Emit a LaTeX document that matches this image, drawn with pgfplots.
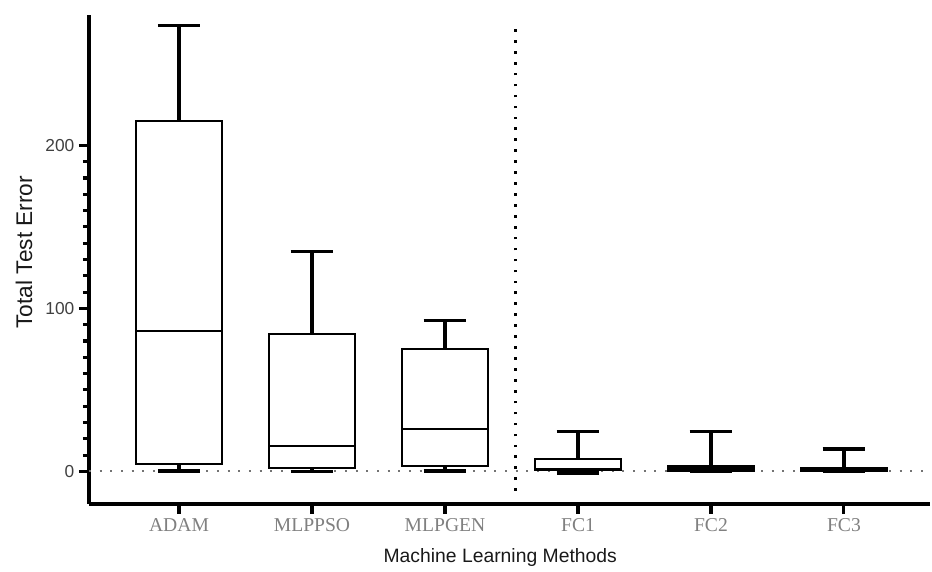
\documentclass[border=0pt]{standalone}
\usepackage{pgfplots}
\pgfplotsset{compat=1.18}
\usepackage{fontspec}
\setmainfont{Liberation Sans}
\newfontfamily\timesfont{Liberation Serif}
\begin{document}
\begin{tikzpicture}
\begin{axis}[
  scale only axis,
  width=630.75pt, height=366.75pt,
  xmin=-0.677, xmax=5.647,
  ymin=-20, ymax=280,
  clip=false,
  axis x line*=bottom, axis y line*=left,
  axis line style={line width=2.3pt, -},
  xtick={0,1,2,3,4,5},
  xticklabels={ADAM,MLPPSO,MLPGEN,FC1,FC2,FC3},
  xticklabel style={font=\timesfont\fontsize{14.7}{16}\selectfont, text=black!50},
  ytick={0,100,200},
  minor y tick num=9,
  /pgf/number format/assume math mode=true,
  yticklabel style={font=\fontsize{13}{15}\selectfont, text=black!75},
  tick align=outside,
  major tick length=7.5pt,
  minor tick length=4.5pt,
  every tick/.style={black, line width=2.3pt},
  every minor tick/.style={black, line width=2.3pt},
  xlabel={Machine Learning Methods},
  ylabel={Total Test Error},
  xlabel style={font=\fontsize{14.5}{17}\selectfont, text=black!90, at={(axis description cs:0.489,-0.110)}, anchor=center},
  ylabel style={font=\fontsize{17}{20}\selectfont, text=black!90, at={(axis description cs:-0.0773,0.515)}, anchor=center},
  bx/.style={black, line width=1.5pt, mark=none},
  wk/.style={black, line width=2.6pt, mark=none},
]
\addplot[black!55, line width=1.4pt, dash pattern=on 1.4pt off 6.6pt] coordinates {(-0.677,0) (5.647,0)};
\addplot[black, line width=2pt, dash pattern=on 2pt off 6.2pt] coordinates {(2.53,-12) (2.53,276)};
% ADAM: lw 0.2, q1 4.3, med 86, q3 215, uw 273.5
\addplot[wk] coordinates {(0,215) (0,273.5)};
\addplot[wk] coordinates {(-0.16,273.5) (0.16,273.5)};
\addplot[wk] coordinates {(0,4.3) (0,0.2)};
\addplot[wk] coordinates {(-0.16,0.2) (0.16,0.2)};
\addplot[bx] coordinates {(-0.325,4.3) (0.325,4.3) (0.325,215) (-0.325,215)} -- cycle;
\addplot[bx] coordinates {(-0.325,86) (0.325,86)};
% MLPPSO: lw 0, q1 2, med 15.5, q3 84, uw 135
\addplot[wk] coordinates {(1,84) (1,135)};
\addplot[wk] coordinates {(0.84,135) (1.16,135)};
\addplot[wk] coordinates {(1,2) (1,0)};
\addplot[wk] coordinates {(0.84,0) (1.16,0)};
\addplot[bx] coordinates {(0.675,2) (1.325,2) (1.325,84) (0.675,84)} -- cycle;
\addplot[bx] coordinates {(0.675,15.5) (1.325,15.5)};
% MLPGEN: lw 0.2, q1 3, med 26, q3 75, uw 92.5
\addplot[wk] coordinates {(2,75) (2,92.5)};
\addplot[wk] coordinates {(1.84,92.5) (2.16,92.5)};
\addplot[wk] coordinates {(2,3) (2,0.2)};
\addplot[wk] coordinates {(1.84,0.2) (2.16,0.2)};
\addplot[bx] coordinates {(1.675,3) (2.325,3) (2.325,75) (1.675,75)} -- cycle;
\addplot[bx] coordinates {(1.675,26) (2.325,26)};
% FC1: lw -1, q1 0.6, med 1.5, q3 7.4, uw 24.6
\addplot[wk] coordinates {(3,7.4) (3,24.6)};
\addplot[wk] coordinates {(2.84,24.6) (3.16,24.6)};
\addplot[wk] coordinates {(3,0.6) (3,-1)};
\addplot[wk, line width=3.2pt] coordinates {(2.84,-0.8) (3.16,-0.8)};
\addplot[bx] coordinates {(2.675,0.6) (3.325,0.6) (3.325,7.4) (2.675,7.4)} -- cycle;
\addplot[bx] coordinates {(2.675,1.5) (3.325,1.5)};
% FC2: lw 0, q1 0.3, med 1.5, q3 3.3, uw 24.6
\addplot[wk] coordinates {(4,3) (4,24.6)};
\addplot[wk] coordinates {(3.84,24.6) (4.16,24.6)};
\addplot[wk] coordinates {(3.84,0) (4.16,0)};
\addplot[bx, fill=black] coordinates {(3.675,0) (4.325,0) (4.325,3.3) (3.675,3.3)} -- cycle;
\addplot[bx] coordinates {(3.675,1.5) (4.325,1.5)};
% FC3: lw 0, q1 0.2, med 1, q3 2, uw 13.6
\addplot[wk] coordinates {(5,2) (5,13.6)};
\addplot[wk] coordinates {(4.84,13.6) (5.16,13.6)};
\addplot[wk] coordinates {(4.84,0) (5.16,0)};
\addplot[bx, fill=black] coordinates {(4.675,0.2) (5.325,0.2) (5.325,2) (4.675,2)} -- cycle;
\addplot[bx] coordinates {(4.675,1) (5.325,1)};
\end{axis}
\pgfresetboundingbox
\path ([shift={(-66.75pt,-51pt)}]current axis.south west) rectangle ([shift={(1.5pt,11.25pt)}]current axis.north east);
\end{tikzpicture}
\end{document}
